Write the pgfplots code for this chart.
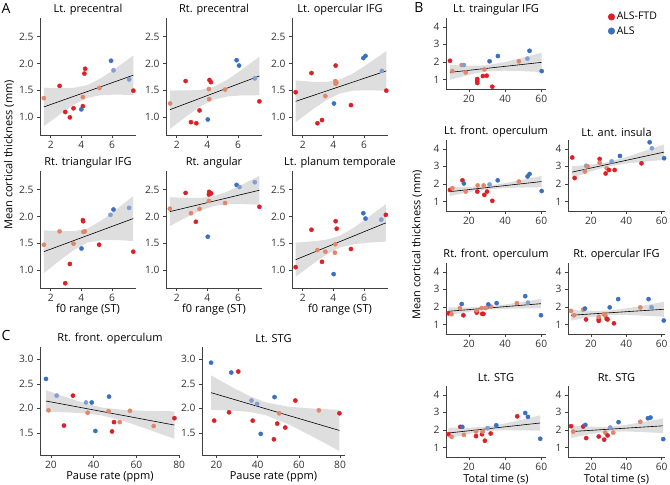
\documentclass[border=0pt]{standalone}
\usepackage{fontspec}
\setmainfont{Open Sans}
\usepackage{pgfplots}
\pgfplotsset{compat=1.18}
\definecolor{cR}{RGB}{222,32,38}
\definecolor{cS}{RGB}{224,134,106}
\definecolor{cL}{RGB}{128,158,212}
\definecolor{cB}{RGB}{58,112,196}
\definecolor{band}{RGB}{222,222,222}
\pgfplotsset{
  panel/.style={
    scale only axis, clip=false,
    axis x line*=bottom, axis y line*=left,
    axis line style={black!75, line width=0.5pt},
    every tick/.style={black!75, line width=0.5pt},
    major tick length=3pt, tick align=outside,
    tick label style={font=\fontsize{10.2}{11}\selectfont, text=black!80},
    /pgf/number format/assume math mode=true,
    title style={font=\fontsize{11}{12}\selectfont, at={(0.5,1)}, anchor=center, yshift=2pt},
    xlabel style={font=\fontsize{11}{12}\selectfont, at={(0.5,0)}, anchor=center, yshift=-22pt},
  },
  Aax/.style={panel, width=96pt, height=117pt, xmin=1.3, xmax=7.57, ymin=0.66, ymax=2.85,
    xtick={2,4,6}, ytick={1,1.5,2,2.5},
    yticklabel style={/pgf/number format/fixed, /pgf/number format/fixed zerofill, /pgf/number format/precision=1}},
  Cax/.style={panel, height=108pt, ymin=1.05, ymax=3.25, xtick={20,40,60,80}, ytick={1.5,2,2.5,3},
    yticklabel style={/pgf/number format/fixed, /pgf/number format/fixed zerofill, /pgf/number format/precision=1}},
  Bax/.style={panel, height=71pt, ymin=0.45, ymax=4.5, xtick={20,40,60}, ytick={1,2,3,4}},
  pts/.style={only marks, scatter, scatter src=explicit symbolic, mark=*, mark size=2.1pt,
    scatter/classes={r={mark=*,draw=cR,fill=cR}, s={mark=*,draw=cS,fill=cS}, l={mark=*,draw=cL,fill=cL}, b={mark=*,draw=cB,fill=cB}}},
  bandst/.style={draw=none, fill=band},
  fitl/.style={black, line width=0.6pt},
}
\begin{document}
\begin{tikzpicture}
\useasboundingbox (0pt,0pt) rectangle (670pt,-485pt);
\node[font=\fontsize{14}{14}\selectfont] at (6pt,-8pt) {A};
\node[font=\fontsize{14}{14}\selectfont] at (419pt,-8pt) {B};
\node[font=\fontsize{14}{14}\selectfont] at (6pt,-335pt) {C};
\node[rotate=90, font=\fontsize{11}{12}\selectfont] at (9pt,-155pt) {Mean cortical thickness (mm)};
\node[rotate=90, font=\fontsize{11}{12}\selectfont] at (417pt,-245pt) {Mean cortical thickness (mm)};

% ---------------- A row 1
\begin{axis}[Aax, at={(40pt,-135pt)}, anchor=south west, title={Lt. precentral}]
\addplot[bandst] coordinates {(1.55,1.545)(2.69,1.537)(3.545,1.545)(4.4,1.595)(5.3,1.725)(6.2,1.900)(7.4,2.150)(7.4,1.410)(6.2,1.416)(5.3,1.407)(4.4,1.355)(3.545,1.231)(2.69,1.065)(1.55,0.825)};
\addplot[fitl] coordinates {(1.55,1.185)(7.4,1.78)};
\addplot[pts] table[meta=c] {
x y c
1.55 1.35 s
2.58 1.58 r
2.95 1.09 r
3.25 0.99 r
3.49 1.16 r
4.20 1.81 r
4.25 1.90 r
4.10 1.20 r
4.00 1.14 b
4.10 1.37 s
5.18 1.54 s
5.94 2.05 b
6.10 1.87 l
7.12 1.70 l
7.40 1.49 r
};
\end{axis}

\begin{axis}[Aax, at={(166pt,-135pt)}, anchor=south west, title={Rt. precentral}]
\addplot[bandst] coordinates {(1.57,1.496)(2.69,1.493)(3.55,1.507)(4.4,1.561)(5.3,1.695)(6.2,1.872)(7.4,2.125)(7.4,1.405)(6.2,1.400)(5.3,1.381)(4.4,1.321)(3.55,1.193)(2.69,1.021)(1.57,0.776)};
\addplot[fitl] coordinates {(1.57,1.136)(7.4,1.765)};
\addplot[pts] table[meta=c] {
x y c
1.57 1.25 s
2.58 1.67 r
2.93 0.90 r
3.28 0.88 r
3.49 1.12 r
4.03 0.95 b
4.12 1.33 s
4.10 1.52 s
4.14 1.69 r
4.23 1.65 r
5.16 1.51 s
5.91 2.06 b
6.07 1.96 b
7.10 1.72 l
7.40 1.29 r
};
\end{axis}

\begin{axis}[Aax, at={(292pt,-135pt)}, anchor=south west, title={Lt. opercular IFG}]
\addplot[bandst] coordinates {(1.54,1.68)(2.68,1.656)(3.54,1.653)(4.4,1.695)(5.3,1.814)(6.2,1.982)(7.46,2.23)(7.46,1.49)(6.2,1.496)(5.3,1.490)(4.4,1.435)(3.54,1.313)(2.68,1.144)(1.54,0.90)};
\addplot[fitl] coordinates {(1.54,1.29)(7.46,1.86)};
\addplot[pts] table[meta=c] {
x y c
1.54 1.46 r
2.57 1.82 r
2.96 0.88 r
3.26 0.94 r
3.48 1.39 s
4.04 1.25 b
4.13 1.67 s
4.15 1.62 s
4.20 1.64 s
4.15 1.96 r
5.15 1.22 r
5.96 2.10 b
6.10 2.14 b
7.17 1.86 l
7.46 1.49 r
};
\end{axis}

% ---------------- A row 2
\begin{axis}[Aax, at={(40pt,-288pt)}, anchor=south west, title={Rt. triangular IFG}, xlabel={f0 range (ST)}]
\addplot[bandst] coordinates {(1.55,1.74)(2.69,1.724)(3.55,1.727)(4.4,1.773)(5.3,1.922)(6.2,2.110)(7.39,2.38)(7.39,1.54)(6.2,1.558)(5.3,1.554)(4.4,1.513)(3.55,1.377)(2.69,1.198)(1.55,0.94)};
\addplot[fitl] coordinates {(1.55,1.34)(7.39,1.96)};
\addplot[pts] table[meta=c] {
x y c
1.55 1.47 s
2.58 1.72 s
2.95 0.75 r
3.25 1.11 r
3.49 1.49 s
4.01 1.40 b
4.10 1.93 r
4.12 1.91 r
4.14 1.71 s
4.23 1.72 s
5.16 1.47 r
5.90 2.03 l
6.10 2.13 b
7.12 2.16 l
7.39 1.34 r
};
\end{axis}

\begin{axis}[Aax, at={(166pt,-288pt)}, anchor=south west, title={Rt. angular}, xlabel={f0 range (ST)}]
\addplot[bandst] coordinates {(1.55,2.36)(2.69,2.345)(3.55,2.345)(4.4,2.375)(5.3,2.465)(6.2,2.585)(7.4,2.76)(7.4,2.22)(6.2,2.231)(5.3,2.229)(4.4,2.195)(3.55,2.109)(2.69,1.991)(1.55,1.82)};
\addplot[fitl] coordinates {(1.55,2.09)(7.4,2.49)};
\addplot[pts] table[meta=c] {
x y c
1.55 2.145 s
2.58 2.44 r
2.93 2.06 s
3.25 1.90 r
3.49 2.14 s
4.03 1.62 b
4.10 2.29 s
4.12 2.46 r
4.20 2.44 r
4.10 2.41 r
4.25 2.43 r
5.16 2.25 s
5.91 2.59 b
6.10 2.55 l
7.10 2.64 l
7.40 2.18 r
};
\end{axis}

\begin{axis}[Aax, at={(292pt,-288pt)}, anchor=south west, title={Lt. planum temporale}, xlabel={f0 range (ST)}]
\addplot[bandst] coordinates {(1.54,1.51)(2.68,1.534)(3.54,1.564)(4.4,1.635)(5.3,1.783)(6.2,1.966)(7.43,2.23)(7.43,1.53)(6.2,1.506)(5.3,1.477)(4.4,1.415)(3.54,1.284)(2.68,1.114)(1.54,0.87)};
\addplot[fitl] coordinates {(1.54,1.19)(7.43,1.88)};
\addplot[pts] table[meta=c] {
x y c
1.54 1.05 r
2.57 1.75 r
2.96 1.37 s
3.26 1.15 r
3.48 1.34 s
4.02 0.92 b
4.13 1.48 s
4.10 1.32 s
4.15 1.91 r
4.22 1.77 r
5.15 1.39 r
5.96 2.06 b
6.10 1.96 b
7.13 1.94 l
7.43 2.03 r
};
\end{axis}

% ---------------- C
\begin{axis}[Cax, width=140pt, xmin=14.9, xmax=80.4, at={(40pt,-455pt)}, anchor=south west, title={Rt. front. operculum}, xlabel={Pause rate (ppm)}]
\addplot[bandst] coordinates {(17.7,2.37)(28.2,2.211)(36.1,2.101)(44,2.016)(54.1,1.967)(64.3,1.950)(77.8,1.94)(77.8,1.38)(64.3,1.590)(54.1,1.740)(44,1.856)(36.1,1.899)(28.2,1.917)(17.7,1.93)};
\addplot[fitl] coordinates {(17.7,2.15)(77.8,1.66)};
\addplot[pts] table[meta=c] {
x y c
17.7 2.60 b
18.9 1.96 s
22.7 2.26 l
26.1 1.65 r
30.3 2.26 r
36.4 2.12 l
39.1 2.12 b
37.2 1.91 s
40.8 1.54 b
47.2 2.24 b
47.0 1.94 s
48.6 1.53 r
49.5 1.72 r
52.2 1.72 s
57.0 1.95 s
68.1 1.64 s
77.8 1.80 r
};
\end{axis}

\begin{axis}[Cax, width=143pt, xmin=13, xmax=82.4, at={(202pt,-455pt)}, anchor=south west, title={Lt. STG}, xlabel={Pause rate (ppm)}]
\addplot[bandst] coordinates {(17.4,2.67)(28.0,2.423)(36.0,2.252)(44,2.121)(54.7,2.036)(65.4,2.000)(79.7,1.97)(79.7,1.13)(65.4,1.454)(54.7,1.682)(44,1.861)(36.0,1.928)(28.0,1.955)(17.4,1.97)};
\addplot[fitl] coordinates {(17.4,2.32)(79.7,1.55)};
\addplot[pts] table[meta=c] {
x y c
17.4 2.93 b
18.9 1.75 r
27.2 2.73 b
26.1 1.92 r
30.6 2.75 r
37.0 2.16 l
39.7 2.09 l
48.2 2.23 b
37.6 1.75 r
41.5 1.48 b
47.9 1.37 r
49.5 1.69 r
50.5 1.90 s
53.4 1.61 r
58.3 2.16 r
69.7 1.96 s
79.7 1.90 r
};
\end{axis}

% ---------------- B
\begin{axis}[Bax, width=100pt, xmin=7.3, xmax=62.6, at={(446pt,-89pt)}, anchor=south west, title={Lt. traingular IFG},
  legend style={at={(1.62,1.11)}, anchor=north west, draw=none, fill=none, font=\fontsize{10.5}{12}\selectfont, row sep=1pt, inner sep=0pt}, legend cell align=left]
\addlegendimage{only marks, mark=*, mark size=3.3pt, draw=cR, fill=cR}
\addlegendentry{ALS-FTD}
\addlegendimage{only marks, mark=*, mark size=3.3pt, draw=cB, fill=cB}
\addlegendentry{ALS}
\addplot[bandst] coordinates {(9.5,1.83)(17.7,1.787)(23.85,1.776)(30,1.81)(39.1,1.971)(48.1,2.194)(60.2,2.52)(60.2,1.42)(48.1,1.474)(39.1,1.495)(30,1.45)(23.85,1.346)(17.7,1.197)(9.5,0.97)};
\addplot[fitl] coordinates {(9.5,1.40)(60.2,1.97)};
\addplot[pts] table[meta=c] {
x y c
9.5 2.06 r
10.8 1.47 s
16.0 1.82 s
17.2 1.82 l
18.2 1.40 s
24.6 1.02 r
24.6 0.90 r
24.6 0.79 r
28.5 1.57 s
27.7 1.19 r
29.8 1.21 r
31.4 2.03 b
32.9 0.58 r
36.0 2.33 b
47.6 2.03 s
52.3 2.18 l
53.5 2.63 b
60.2 1.47 b
};
\end{axis}

\begin{axis}[Bax, width=100pt, xmin=7.3, xmax=62.6, at={(446pt,-211pt)}, anchor=south west, title={Lt. front. operculum}]
\addplot[bandst] coordinates {(9.5,1.804)(17.7,1.818)(23.85,1.839)(30,1.888)(39.1,2.026)(48.1,2.202)(60.2,2.45)(60.2,1.81)(48.1,1.786)(39.1,1.756)(30,1.688)(23.85,1.597)(17.7,1.478)(9.5,1.304)};
\addplot[fitl] coordinates {(9.5,1.554)(60.2,2.13)};
\addplot[pts] table[meta=c] {
x y c
9.5 1.65 r
10.8 1.75 s
16.4 2.20 r
17.2 2.02 b
18.2 1.56 s
24.6 1.56 r
24.8 1.91 s
28.1 1.91 s
28.5 1.37 r
30.0 1.56 r
31.4 1.96 l
32.9 1.03 r
35.9 2.20 b
47.6 2.13 s
52.4 2.42 b
53.5 2.56 b
60.2 1.59 b
};
\end{axis}

\begin{axis}[Bax, width=97pt, xmin=7.0, xmax=61.9, at={(568pt,-211pt)}, anchor=south west, title={Lt. ant. insula}]
\addplot[bandst] coordinates {(9.4,3.00)(17.6,3.074)(23.8,3.145)(30,3.252)(39.4,3.509)(48.8,3.818)(61.4,4.25)(61.4,3.37)(48.8,3.250)(39.4,3.147)(30,2.992)(23.8,2.827)(17.6,2.626)(9.4,2.34)};
\addplot[fitl] coordinates {(9.4,2.67)(61.4,3.81)};
\addplot[pts] table[meta=c] {
x y c
9.4 3.50 r
10.8 2.33 r
16.6 2.70 s
17.3 3.03 l
18.1 3.00 s
24.9 3.42 r
24.9 3.20 s
28.9 2.89 s
28.3 2.59 r
30.2 2.79 r
31.7 3.28 l
33.4 2.79 r
36.4 3.59 b
48.6 3.17 r
53.2 4.37 b
54.5 4.03 l
61.4 3.46 b
};
\end{axis}

\begin{axis}[Bax, width=100pt, xmin=7.3, xmax=62.6, at={(446pt,-334pt)}, anchor=south west, title={Rt. front. operculum}]
\addplot[bandst] coordinates {(8.6,1.965)(17.2,1.968)(23.6,1.981)(30,2.017)(39.0,2.121)(48.0,2.257)(59.8,2.45)(59.8,1.91)(48.0,1.903)(39.0,1.885)(30,1.837)(23.6,1.765)(17.2,1.668)(8.6,1.525)};
\addplot[fitl] coordinates {(8.6,1.745)(59.8,2.18)};
\addplot[pts] table[meta=c] {
x y c
8.6 1.63 r
10.4 1.58 s
15.0 1.92 s
16.0 2.16 b
16.9 1.52 r
24.3 1.75 r
24.3 1.67 r
24.3 1.80 s
27.0 1.93 s
27.3 1.60 r
28.0 1.60 r
29.2 1.93 s
32.2 2.01 s
30.7 2.14 b
35.3 2.21 b
46.5 2.21 s
51.1 2.61 b
52.6 2.24 l
59.8 1.52 b
};
\end{axis}

\begin{axis}[Bax, width=97pt, xmin=7.0, xmax=61.9, at={(568pt,-334pt)}, anchor=south west, title={Rt. opercular IFG}]
\addplot[bandst] coordinates {(8.7,1.82)(17.2,1.783)(23.6,1.770)(30,1.788)(39.4,1.898)(48.8,2.058)(61.2,2.29)(61.2,1.43)(48.8,1.502)(39.4,1.540)(30,1.528)(23.6,1.464)(17.2,1.367)(8.7,1.22)};
\addplot[fitl] coordinates {(8.7,1.52)(61.2,1.86)};
\addplot[pts] table[meta=c] {
x y c
8.7 1.77 s
10.4 1.52 s
15.6 1.84 s
16.6 1.90 b
17.2 1.28 r
24.4 1.20 r
24.4 1.30 r
24.4 1.43 s
27.3 1.58 s
28.3 1.47 s
28.9 1.31 r
29.4 1.28 r
33.0 1.06 r
30.6 1.97 b
35.4 2.44 b
47.9 1.97 s
52.6 2.44 b
54.3 1.97 l
61.2 1.22 b
};
\end{axis}

\begin{axis}[Bax, width=100pt, xmin=7.3, xmax=62.6, at={(446pt,-457pt)}, anchor=south west, title={Lt. STG}, xlabel={Total time (s)}]
\addplot[bandst] coordinates {(8.6,2.118)(17.2,2.123)(23.6,2.140)(30,2.189)(38.9,2.340)(47.8,2.543)(59.4,2.83)(59.4,1.95)(47.8,1.975)(38.9,1.978)(30,1.929)(23.6,1.834)(17.2,1.707)(8.6,1.518)};
\addplot[fitl] coordinates {(8.6,1.818)(59.4,2.39)};
\addplot[pts] table[meta=c] {
x y c
8.6 1.75 r
10.4 1.60 s
15.2 2.17 r
16.3 2.17 b
17.2 1.71 s
23.9 1.64 r
23.9 1.90 s
27.2 1.75 r
27.6 1.90 s
28.8 1.38 r
32.0 1.79 r
30.3 2.10 l
35.1 2.26 b
46.7 2.77 r
51.1 2.96 b
52.6 2.74 b
59.4 1.49 b
};
\end{axis}

\begin{axis}[Bax, width=97pt, xmin=7.0, xmax=61.9, at={(568pt,-457pt)}, anchor=south west, title={Rt. STG}, xlabel={Total time (s)}]
\addplot[bandst] coordinates {(8.7,2.26)(17.2,2.197)(23.6,2.166)(30,2.175)(39.3,2.277)(48.6,2.428)(60.9,2.65)(60.9,1.81)(48.6,1.876)(39.3,1.909)(30,1.895)(23.6,1.822)(17.2,1.711)(8.7,1.54)};
\addplot[fitl] coordinates {(8.7,1.90)(60.9,2.23)};
\addplot[pts] table[meta=c] {
x y c
8.7 2.21 r
10.0 1.90 s
15.6 2.19 r
16.8 2.28 b
17.3 1.53 r
24.4 1.62 r
27.5 1.44 r
28.1 1.84 s
29.4 1.68 r
32.6 1.84 s
30.9 2.13 l
35.6 2.44 b
47.9 2.46 s
52.2 2.66 b
53.7 2.70 b
60.9 1.47 b
};
\end{axis}
\end{tikzpicture}
\end{document}
